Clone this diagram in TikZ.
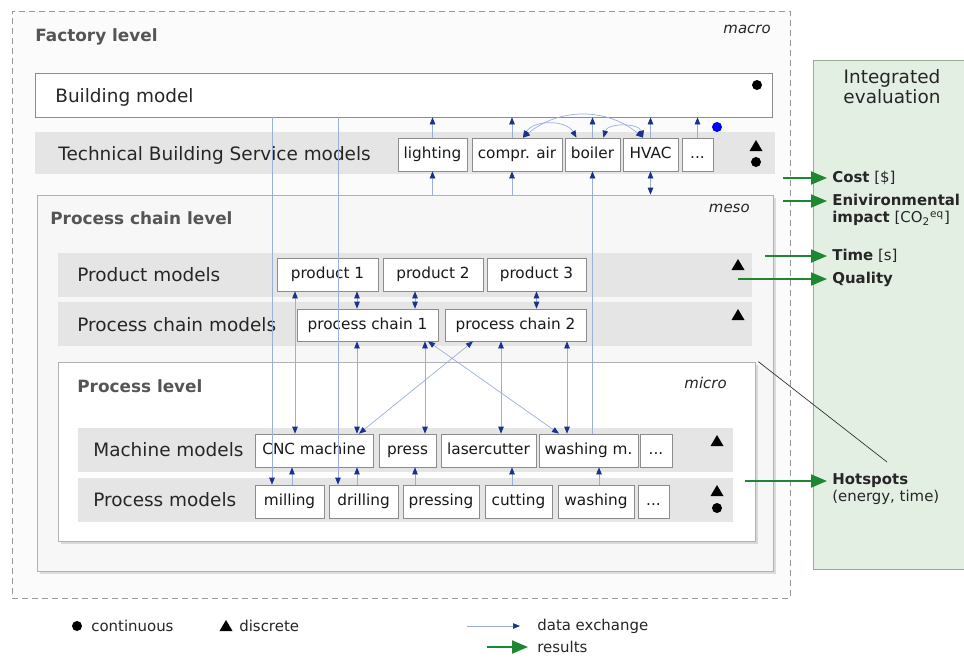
\documentclass[tikz,border=0pt]{standalone}
\usepackage{fontspec}
\setmainfont{DejaVu Sans}
\usepackage{tikz}
\usetikzlibrary{positioning}
\usetikzlibrary{fit}
\usetikzlibrary{arrows.meta}
\usetikzlibrary{shadows}

\definecolor{linkblue}{RGB}{155,175,222}
\definecolor{tipblue}{RGB}{25,50,140}
\definecolor{resgreen}{RGB}{30,135,50}
\definecolor{evalfill}{RGB}{228,239,228}
\definecolor{evalline}{RGB}{150,175,150}
\definecolor{bandgray}{RGB}{229,229,229}
\definecolor{titlegray}{RGB}{85,85,85}

\newcommand{\modbox}[4]{\node[modbox, fit={#2 #3}, label={[boxtext]center:#4}] (#1) {};}
\newcommand{\contmark}[2][black]{\fill[#1] #2 circle (1mm);}
\newcommand{\discmark}[1]{\fill #1 ++(-6.5,5) -- ++(13,0) -- ++(-6.5,-11) -- cycle;}

\begin{document}
\begin{tikzpicture}[
    x=0.2mm, y=-0.2mm,
    every node/.style={text=black!85},
    modbox/.style={draw=black!45, fill=white, inner sep=0pt},
    boxtext/.style={font=\fontsize{8.7}{10}\selectfont, inner sep=0pt, text height=0.72em, text depth=0.22em, text=black!90},
    bandtext/.style={anchor=west, font=\fontsize{10.5}{12}\selectfont, inner sep=0pt},
    leveltitle/.style={anchor=west, font=\fontsize{9.6}{11}\selectfont\bfseries, text=titlegray, inner sep=0pt},
    scaletag/.style={anchor=east, font=\fontsize{8.5}{10}\selectfont\itshape, inner sep=0pt},
    restext/.style={anchor=west, align=left, font=\fontsize{8.5}{9.7}\selectfont, inner sep=0pt},
    legtext/.style={anchor=west, font=\fontsize{8.5}{10}\selectfont, inner sep=0pt},
    factorybox/.style={draw=black!40, dash pattern=on 1.2mm off 0.8mm, fill=black!1.5, inner sep=0pt},
    levelbox/.style={draw=black!30, fill=#1, inner sep=0pt, drop shadow={shadow xshift=0.6mm, shadow yshift=-0.6mm, opacity=0.25}},
    datalink/.style={linkblue, line width=0.4pt, -{Triangle[length=1.4mm, width=1.1mm, color=tipblue]}},
    datalinks/.style={linkblue, line width=0.4pt, {Triangle[length=1.4mm, width=1.1mm, color=tipblue]}-{Triangle[length=1.4mm, width=1.1mm, color=tipblue]}},
    reslink/.style={resgreen, line width=1.1pt, shorten >=1mm, -{Triangle[length=3.2mm, width=2.6mm]}}
  ]

  \useasboundingbox (0,0) rectangle (964,657);
  \fill[white] (0,0) rectangle (964,657);

  % factory level
  \node[factorybox, fit={(12,11) (790,598)}] (factory) {};
  \node[leveltitle] (factorytitle) at (35,37) {Factory level};
  \node[scaletag] (macrotag) at (771,29) {macro};

  \node[modbox, fit={(35,73) (772,117)}] (build) {};
  \node[bandtext] (buildlbl) at (55,97) {Building model};
  \contmark{(757,85)}

  \fill[bandgray] (35,132) rectangle (775,174);
  \node[bandtext] (tbslbl) at (58,155) {Technical Building Service models};
  \modbox{light}{(398,138)}{(467,171)}{lighting}
  \modbox{compr}{(472,138)}{(562,171)}{compr. air}
  \modbox{boiler}{(565,138)}{(620,171)}{boiler}
  \modbox{hvac}{(623,138)}{(678,171)}{HVAC}
  \modbox{tbsdots}{(682,138)}{(713,171)}{...}
  \discmark{(756,146)}
  \contmark{(756,162)}
  \contmark[blue]{(717,127)}

  % process chain level
  \node[levelbox=black!3, fit={(37,195) (773,571)}] (meso) {};
  \node[leveltitle] (mesotitle) at (50,218) {Process chain level};
  \node[scaletag] (mesotag) at (750,208) {meso};

  \fill[bandgray] (58,253) rectangle (752,297);
  \node[bandtext] (prodlbl) at (77,275) {Product models};
  \modbox{p1}{(277,258)}{(378,291)}{product 1}
  \modbox{p2}{(383,258)}{(483,291)}{product 2}
  \modbox{p3}{(487,258)}{(586,291)}{product 3}
  \discmark{(738,265)}

  \fill[bandgray] (58,302) rectangle (752,346);
  \node[bandtext] (pclbl) at (77,325) {Process chain models};
  \modbox{pc1}{(297,309)}{(438,341)}{process chain 1}
  \modbox{pc2}{(445,309)}{(586,341)}{process chain 2}
  \discmark{(738,315)}

  % process level
  \node[levelbox=white, fit={(58,362) (755,541)}] (micro) {};
  \node[leveltitle] (microtitle) at (77,386) {Process level};
  \node[scaletag] (microtag) at (727,383) {micro};

  \fill[bandgray] (78,428) rectangle (733,472);
  \node[bandtext] (machlbl) at (93,450) {Machine models};
  \modbox{cnc}{(255,434)}{(373,467)}{CNC machine}
  \modbox{press}{(379,434)}{(436,467)}{press}
  \modbox{laser}{(441,434)}{(536,467)}{lasercutter}
  \modbox{washm}{(539,434)}{(638,467)}{washing m.}
  \modbox{machdots}{(640,434)}{(672,467)}{...}
  \discmark{(717,441)}

  \fill[bandgray] (78,478) rectangle (733,522);
  \node[bandtext] (proclbl) at (93,500) {Process models};
  \modbox{mill}{(255,485)}{(324,518)}{milling}
  \modbox{drill}{(329,485)}{(398,518)}{drilling}
  \modbox{pressing}{(403,485)}{(479,518)}{pressing}
  \modbox{cut}{(485,485)}{(552,518)}{cutting}
  \modbox{wash}{(558,485)}{(634,518)}{washing}
  \modbox{procdots}{(638,485)}{(669,518)}{...}
  \discmark{(717,491)}
  \contmark{(717,508)}

  % integrated evaluation
  \node[draw=evalline, fill=evalfill, inner sep=0pt, fit={(813,60) (968,569)}] (evalpanel) {};
  \node[align=center, font=\fontsize{10.5}{11.4}\selectfont] (evaltitle) at (892,87) {Integrated\\evaluation};
  \node[restext] (cost) at (832,178) {\textbf{Cost} [\$]};
  \node[restext] (envimp) at (832,209.5) {\textbf{Enivironmental}\\\textbf{impact} [CO\textsubscript{2}\textsuperscript{eq}]};
  \node[restext] (timeres) at (832,256) {\textbf{Time} [s]};
  \node[restext] (quality) at (832,279) {\textbf{Quality}};
  \node[restext] (hotspots) at (832,489.5) {\textbf{Hotspots}\\(energy, time)};

  % data exchange
  \foreach \tb in {light,boiler,hvac,tbsdots}
    \draw[datalink] (\tb.north) -- (\tb.north |- build.south);
  \draw[datalink] ([xshift=-1mm]compr.north) -- ([xshift=-1mm]compr.north |- build.south);
  \draw[datalinks] ([xshift=1.2mm]compr.north) to[bend left=60] ([xshift=-3.2mm]boiler.north);
  \draw[datalinks] ([xshift=1.2mm]compr.north) to[bend left=40] ([xshift=-1.5mm]hvac.north);
  \draw[datalinks] ([xshift=2.2mm]boiler.north) to[bend left=75] ([xshift=-1.5mm]hvac.north);

  \draw[datalink] (light.south |- meso.north) -- (light.south);
  \draw[datalink] ([xshift=-1mm]compr.south |- meso.north) -- ([xshift=-1mm]compr.south);
  \draw[datalinks] (hvac.south) -- (hvac.south |- meso.north);
  \draw[datalink] (boiler.south |- washm.north) -- (boiler.south);

  \draw[datalink] ([xshift=-3.5mm]mill.north |- build.south) -- ([xshift=-3.5mm]mill.north);
  \draw[datalink] ([xshift=-5.1mm]drill.north |- build.south) -- ([xshift=-5.1mm]drill.north);

  \draw[datalinks] ([xshift=-3.8mm]cnc.north |- p1.south) -- ([xshift=-3.8mm]cnc.north);
  \draw[datalinks] ([xshift=-2.1mm]pc1.north |- p1.south) -- ([xshift=-2.1mm]pc1.north);
  \draw[datalinks] ([xshift=-3.6mm]p2.south) -- ([xshift=-3.6mm]p2.south |- pc1.north);
  \draw[datalinks] (p3.south) -- (p3.south |- pc2.north);
  \draw[datalinks] ([xshift=-2.1mm]pc1.south) -- ([xshift=-2.1mm]pc1.south |- cnc.north);
  \draw[datalinks] ([xshift=3.5mm]press.north |- pc1.south) -- ([xshift=3.5mm]press.north);
  \draw[datalinks] ([xshift=2.5mm]laser.north |- pc2.south) -- ([xshift=2.5mm]laser.north);
  \draw[datalinks] ([xshift=-4.3mm]washm.north |- pc2.south) -- ([xshift=-4.3mm]washm.north);
  \draw[datalinks] ([xshift=12.1mm]pc1.south) -- ([xshift=-5.9mm]washm.north);
  \draw[datalinks] ([xshift=-8.5mm]pc2.south) -- ([xshift=9mm]cnc.north);

  \draw[datalink] ([xshift=0.5mm]mill.north) -- ([xshift=0.5mm]mill.north |- cnc.south);
  \draw[datalink] ([xshift=-1.3mm]drill.north) -- ([xshift=-1.3mm]drill.north |- cnc.south);
  \draw[datalink] ([xshift=-5.2mm]pressing.north) -- ([xshift=-5.2mm]pressing.north |- press.south);
  \draw[datalink] ([xshift=-1.3mm]cut.north) -- ([xshift=-1.3mm]cut.north |- laser.south);
  \draw[datalink] ([xshift=0.6mm]wash.north) -- ([xshift=0.6mm]wash.north |- washm.south);

  % results
  \coordinate (cost0) at (783,178);
  \coordinate (env0) at (783,201);
  \coordinate (time0) at (765,256);
  \coordinate (qual0) at (738,279);
  \coordinate (hot0) at (745,481);
  \draw[reslink] (cost0) -- (cost0 -| cost.west);
  \draw[reslink] (env0) -- (env0 -| envimp.west);
  \draw[reslink] (time0) -- (time0 -| timeres.west);
  \draw[reslink] (qual0) -- (qual0 -| quality.west);
  \draw[reslink] (hot0) -- (hot0 -| hotspots.west);
  \coordinate (hotend) at (887,462);
  \draw[black!80, line width=0.4pt] ([xshift=0.6mm]micro.north east) -- (hotend);

  % legend
  \contmark{(77,626)}
  \node[legtext] (contlbl) at (91,626) {continuous};
  \discmark{(226,626)}
  \node[legtext] (disclbl) at (239,626) {discrete};
  \node[legtext] (datalbl) at (537,626) {data exchange};
  \node[legtext] (reslbl) at (537,647) {results};
  \coordinate (data0) at (467,626);
  \coordinate (res0) at (487,647);
  \draw[datalink] (data0) -- ([xshift=-3.4mm]datalbl.west);
  \draw[reslink] (res0) -- ([xshift=-0.8mm]reslbl.west);
\end{tikzpicture}
\end{document}
